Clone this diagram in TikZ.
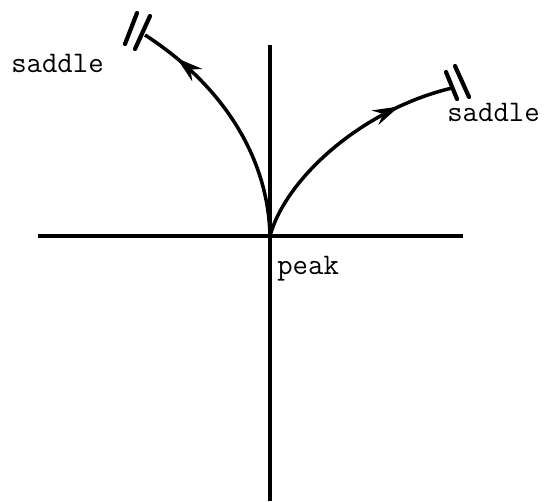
\documentclass[tikz,border=0pt]{standalone}
\usetikzlibrary{arrows.meta,decorations.markings}

\tikzset{
  axis/.style={line width=2.8pt},
  flowline/.style={line width=2pt, postaction={decorate},
    decoration={markings, mark=at position #1 with {\arrow{Stealth[length=15pt,width=9pt,inset=5pt]}}}},
  barline/.style={line width=2.4pt, line cap=round},
  lbl/.style={font=\ttfamily\fontsize{17}{20}\selectfont, inner sep=0pt}
}

\begin{document}
\begin{tikzpicture}[x=0.02cm,y=-0.02cm]
  \useasboundingbox (0,0) rectangle (550,501);
  % axes
  \coordinate (O) at (270,236);
  \coordinate (xl) at (38,236); \coordinate (xr) at (463,236);
  \coordinate (yt) at (270,45); \coordinate (yb) at (270,501);
  \draw[axis] (xl) -- (xr);
  \draw[axis] (yt) -- (yb);
  % separatrices to the saddles
  \coordinate (sl) at (145,35); \coordinate (sr) at (452,88);
  \draw[flowline=0.84] (O) .. controls (268,150) and (215,80) .. (sl);
  \draw[flowline=0.77] (O) .. controls (285,180) and (360,110) .. (sr);
  % cut marks
  \draw[barline] (137,13) -- (125,44); \draw[barline] (150,16) -- (135,49);
  \draw[barline] (446,72) -- (457,99); \draw[barline] (455,66) -- (469,97);
  % labels
  \node[lbl, anchor=base west] (saddleL) at (11,72) {saddle};
  \node[lbl, anchor=base west] (saddleR) at (447,121) {saddle};
  \node[lbl, anchor=base west] (peak) at (277,274) {peak};
\end{tikzpicture}
\end{document}
